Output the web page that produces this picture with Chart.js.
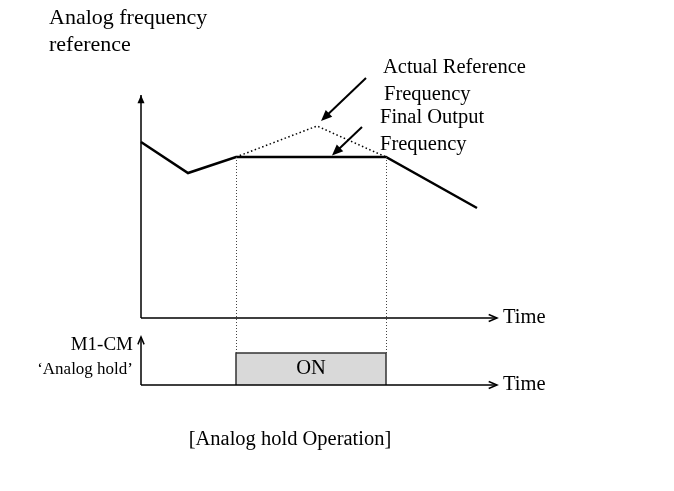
<!DOCTYPE html>
<html>
<head>
<meta charset="utf-8">
<script src="https://cdn.jsdelivr.net/npm/chart.js@4/dist/chart.umd.min.js"></script>
<style>
  html, body { margin: 0; padding: 0; background: #fff; }
  #wrap { width: 674px; height: 491px; }
</style>
</head>
<body>
<div id="wrap"><canvas id="grafica" width="674" height="491"></canvas></div>
<script>
// final output frequency (solid line), time in s, frequency in Hz
const outputTime = [0, 4.7, 9.5, 24.5, 33.6];
const outputFreq = [44, 36.25, 40.25, 40.25, 27.5];

// actual reference frequency while the hold is active (dotted)
const refTime = [9.5, 17.6, 24.5];
const refFreq = [40.25, 48, 40.25];

// M1-CM 'Analog hold' input
const holdTime = [9.5, 9.5, 24.5, 24.5];
const holdSignal = [0, 1, 1, 0];

const timeAxisEnd = 35.6;
const freqAxisTop = 55.75;
const holdAxisTop = 1.5;

const toPoints = (xs, ys) => xs.map((x, i) => ({ x: x, y: ys[i] }));

const SERIF = '"Liberation Serif", "Times New Roman", serif';

function flecha(ctx, x1, y1, x2, y2, size, filled) {
    const ang = Math.atan2(y2 - y1, x2 - x1);
    const a1 = ang + Math.PI - 0.4;
    const a2 = ang + Math.PI + 0.4;
    ctx.beginPath();
    ctx.moveTo(x2 + size * Math.cos(a1), y2 + size * Math.sin(a1));
    ctx.lineTo(x2, y2);
    ctx.lineTo(x2 + size * Math.cos(a2), y2 + size * Math.sin(a2));
    if (filled) {
        ctx.closePath();
        ctx.fill();
    } else {
        ctx.stroke();
    }
}

const diagrama = {
    id: 'diagrama',
    afterDatasetsDraw(chart) {
        const ctx = chart.ctx;
        const x = chart.scales.x, y = chart.scales.y, ys = chart.scales.ys;
        ctx.save();
        ctx.strokeStyle = '#000';
        ctx.fillStyle = '#000';
        ctx.lineWidth = 1.5;

        // upper axes
        const x0 = x.getPixelForValue(0);
        const y0 = y.getPixelForValue(0);
        const xe = x.getPixelForValue(timeAxisEnd);
        const yt = y.getPixelForValue(freqAxisTop);
        ctx.beginPath();
        ctx.moveTo(x0, y0); ctx.lineTo(x0, yt);
        ctx.moveTo(x0, y0); ctx.lineTo(xe, y0);
        ctx.stroke();
        flecha(ctx, x0, y0, x0, yt, 9, true);
        flecha(ctx, x0, y0, xe, y0, 9, false);

        // lower axes
        const s0 = ys.getPixelForValue(0);
        const st = ys.getPixelForValue(holdAxisTop);
        ctx.beginPath();
        ctx.moveTo(x0, s0); ctx.lineTo(x0, st);
        ctx.moveTo(x0, s0); ctx.lineTo(xe, s0);
        ctx.stroke();
        flecha(ctx, x0, s0, x0, st, 8, false);
        flecha(ctx, x0, s0, xe, s0, 9, false);

        // dotted guides from the hold edges down to the ON box
        ctx.lineWidth = 1;
        ctx.strokeStyle = '#444';
        ctx.setLineDash([1, 2]);
        [holdTime[0], holdTime[2]].forEach(t => {
            const px = Math.round(x.getPixelForValue(t)) + 0.5;
            ctx.beginPath();
            ctx.moveTo(px, y.getPixelForValue(refFreq[0]));
            ctx.lineTo(px, ys.getPixelForValue(1));
            ctx.stroke();
        });
        ctx.setLineDash([]);

        // pointer arrows
        ctx.strokeStyle = '#000';
        ctx.lineWidth = 2;
        const punteros = [
            [22.5, 60, 18.0, 49.25],
            [22.1, 47.75, 19.1, 40.6]
        ];
        punteros.forEach(p => {
            const ax = x.getPixelForValue(p[0]), ay = y.getPixelForValue(p[1]);
            const bx = x.getPixelForValue(p[2]), by = y.getPixelForValue(p[3]);
            ctx.beginPath();
            ctx.moveTo(ax, ay);
            ctx.lineTo(bx + (ax - bx) * 0.15, by + (ay - by) * 0.15);
            ctx.stroke();
            flecha(ctx, ax, ay, bx, by, 12, true);
        });

        // texts
        ctx.textBaseline = 'middle';
        ctx.textAlign = 'left';
        ctx.font = '22px ' + SERIF;
        ctx.fillText('Analog frequency', 49, 18);
        ctx.fillText('reference', 49, 45);
        ctx.font = '20.5px ' + SERIF;
        ctx.fillText('Actual Reference', 383, 68);
        ctx.fillText('Frequency', 384, 95);
        ctx.fillText('Final Output', 380, 118);
        ctx.fillText('Frequency', 380, 145);
        ctx.fillText('Time', xe + 6, y0);
        ctx.fillText('Time', xe + 6, s0);
        ctx.textAlign = 'center';
        ctx.fillText('ON', (x.getPixelForValue(holdTime[0]) + x.getPixelForValue(holdTime[2])) / 2,
            (ys.getPixelForValue(0) + ys.getPixelForValue(1)) / 2);
        ctx.fillText('[Analog hold Operation]', 290, 440);
        ctx.textAlign = 'right';
        ctx.font = '19px ' + SERIF;
        ctx.fillText('M1-CM', x0 - 8, 345);
        ctx.font = '17px ' + SERIF;
        ctx.fillText('\u2018Analog hold\u2019', x0 - 8, 370);
        ctx.restore();
    }
};

new Chart(document.getElementById('grafica'), {
    type: 'scatter',
    data: {
        datasets: [
            {
                label: 'Analog hold',
                data: toPoints(holdTime, holdSignal),
                yAxisID: 'ys',
                showLine: true,
                borderColor: '#333',
                borderWidth: 1.5,
                backgroundColor: '#d9d9d9',
                fill: 'origin',
                pointRadius: 0,
                tension: 0
            },
            {
                label: 'Actual Reference Frequency',
                data: toPoints(refTime, refFreq),
                yAxisID: 'y',
                showLine: true,
                borderColor: '#000',
                borderWidth: 1.5,
                borderDash: [1.5, 2.5],
                pointRadius: 0,
                tension: 0
            },
            {
                label: 'Final Output Frequency',
                data: toPoints(outputTime, outputFreq),
                yAxisID: 'y',
                showLine: true,
                borderColor: '#000',
                borderWidth: 2.5,
                pointRadius: 0,
                tension: 0
            }
        ]
    },
    options: {
        responsive: false,
        animation: false,
        layout: { padding: 0 },
        scales: {
            x: { type: 'linear', min: -14.1, max: 53.3, display: false },
            y: { type: 'linear', min: -43.25, max: 79.5, display: false },
            ys: { type: 'linear', min: -3.31, max: 12.03, display: false }
        },
        plugins: {
            legend: { display: false },
            tooltip: { enabled: false }
        }
    },
    plugins: [diagrama]
});
</script>
</body>
</html>
